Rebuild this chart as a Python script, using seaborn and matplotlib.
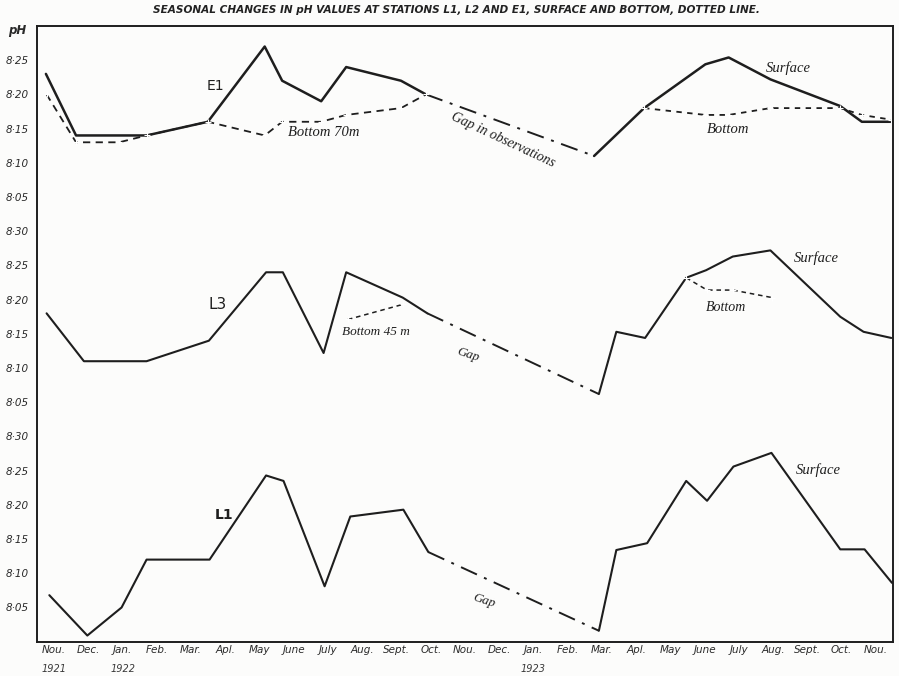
"""
Seasonal changes in pH at stations L1, L3 (L2) and E1 -- surface and bottom.
Three stacked panels drawn on one axis with offsets of 0.30 pH.
"""
import numpy as np
import pandas as pd
import matplotlib
matplotlib.use('Agg')
import matplotlib.pyplot as plt
import seaborn as sns

# x = months since start of Nov. 1921 (ticks mark month boundaries)
months = ['Nou.', 'Dec.', 'Jan.', 'Feb.', 'Mar.', 'Apl.', 'May', 'June', 'July', 'Aug.',
          'Sept.', 'Oct.', 'Nou.', 'Dec.', 'Jan.', 'Feb.', 'Mar.', 'Apl.', 'May', 'June',
          'July', 'Aug.', 'Sept.', 'Oct.', 'Nou.']
years = {0: '1921', 2: '1922', 14: '1923'}

# ---- E1 ----
e1_x1 = [0.26, 1.14, 2.37, 3.2, 4.99, 6.65, 7.16, 8.3, 9.03, 10.63, 11.36]
e1_y1 = [8.23, 8.14, 8.14, 8.14, 8.16, 8.27, 8.22, 8.19, 8.24, 8.22, 8.20]
e1_gap_x = [11.36, 16.27]
e1_gap_y = [8.20, 8.11]
e1_x2 = [16.27, 17.73, 19.52, 20.2, 21.42, 23.46, 24.09, 24.95]
e1_y2 = [8.11, 8.18, 8.244, 8.254, 8.222, 8.183, 8.16, 8.16]
e1b_x1 = [0.28, 1.14, 2.4, 3.2, 4.99, 6.65, 7.16, 8.3, 9.03, 10.63, 11.36]
e1b_y1 = [8.20, 8.13, 8.13, 8.14, 8.16, 8.14, 8.16, 8.16, 8.17, 8.18, 8.20]
e1b_x2 = [17.73, 19.52, 20.2, 21.42, 23.46, 24.09, 24.95]
e1b_y2 = [8.18, 8.17, 8.17, 8.18, 8.18, 8.17, 8.163]

# ---- L3 ----
l3_x1 = [0.28, 1.37, 2.42, 3.2, 5.02, 6.69, 7.18, 8.37, 9.03, 10.68, 11.4]
l3_y1 = [8.18, 8.11, 8.11, 8.11, 8.14, 8.24, 8.24, 8.122, 8.24, 8.203, 8.18]
l3_gap_x = [11.4, 16.41]
l3_gap_y = [8.18, 8.062]
l3_x2 = [16.41, 16.92, 17.76, 18.96, 19.54, 20.32, 21.42, 23.46, 24.14, 24.95]
l3_y2 = [8.062, 8.153, 8.144, 8.232, 8.243, 8.263, 8.272, 8.175, 8.153, 8.144]
l3b_x1 = [9.08, 10.68]
l3b_y1 = [8.171, 8.193]
l3b_x2 = [18.96, 19.57, 20.32, 21.47]
l3b_y2 = [8.232, 8.214, 8.214, 8.203]

# ---- L1 ----
l1_x1 = [0.36, 1.47, 2.47, 3.2, 5.04, 6.69, 7.2, 8.4, 9.15, 10.7, 11.43]
l1_y1 = [8.068, 8.009, 8.05, 8.12, 8.12, 8.243, 8.235, 8.081, 8.183, 8.193, 8.131]
l1_gap_x = [11.43, 16.41]
l1_gap_y = [8.131, 8.016]
l1_x2 = [16.41, 16.92, 17.82, 18.96, 19.57, 20.34, 21.45, 23.46, 24.17, 24.97]
l1_y2 = [8.016, 8.134, 8.144, 8.235, 8.206, 8.256, 8.276, 8.135, 8.135, 8.086]

OFF = {'E1': 0.60, 'L3': 0.30, 'L1': 0.0}
INK = '#1e1e1e'

sns.set_style('white')
plt.rcParams['font.family'] = ['DejaVu Sans']

fig = plt.figure(figsize=(8.99, 6.76), dpi=100, facecolor='#fcfcfb')
ax = fig.add_axes([37 / 899, (676 - 641.7) / 676, (893 - 37) / 899, (641.7 - 26) / 676])
ax.set_facecolor('#fcfcfb')


def seg(x, y, off, ls='-', lw=1.6, marker=None, dashes=None):
    d = pd.DataFrame({'x': x, 'y': np.array(y) + off})
    kw = dict(x='x', y='y', data=d, ax=ax, color=INK, lw=lw, estimator=None, sort=False)
    if marker:
        kw.update(marker=marker, markersize=4, markeredgewidth=0.8)
    line = sns.lineplot(**kw).lines[-1]
    line.set_linestyle(ls)
    if dashes:
        line.set_dashes(dashes)


# surface lines
seg(e1_x1, e1_y1, OFF['E1'], lw=1.8)
seg(e1_x2, e1_y2, OFF['E1'], lw=1.8)
seg(l3_x1, l3_y1, OFF['L3'], lw=1.5)
seg(l3_x2, l3_y2, OFF['L3'], lw=1.5)
seg(l1_x1, l1_y1, OFF['L1'], lw=1.5)
seg(l1_x2, l1_y2, OFF['L1'], lw=1.5)
# gaps in observations
for gx, gy, k in [(e1_gap_x, e1_gap_y, 'E1'), (l3_gap_x, l3_gap_y, 'L3'), (l1_gap_x, l1_gap_y, 'L1')]:
    seg(gx, gy, OFF[k], lw=1.4, dashes=(9, 4, 1.5, 4))
# bottom lines
seg(e1b_x1, e1b_y1, OFF['E1'], lw=1.3, marker='+', dashes=(4, 3))
seg(e1b_x2, e1b_y2, OFF['E1'], lw=1.3, marker='+', dashes=(3, 3))
seg(l3b_x1, l3b_y1, OFF['L3'], lw=1.1, marker='+', dashes=(3, 2.5))
seg(l3b_x2, l3b_y2, OFF['L3'], lw=1.1, marker='+', dashes=(3, 2.5))

ax.set_xlim(0, 25)
ax.set_ylim(8.0, 8.9)
ax.set_xlabel('')
ax.set_ylabel('')

# y ticks: repeating pH scale in each panel
yt = np.round(np.arange(8.05, 8.86, 0.05), 2)
ylab = []
for v in yt:
    r = round((v - 8.0) % 0.30, 2)
    r = 0.30 if r == 0 else r
    ylab.append(f'8·{int(round(r * 100)):02d}')
ax.set_yticks(yt)
ax.set_yticklabels(ylab, fontsize=7.5, style='italic', color='#2a2a2a')
ax.tick_params(axis='y', direction='out', length=4, width=1, color=INK, pad=2)

ax.set_xticks(np.arange(1, 25))
ax.set_xticklabels([])
ax.tick_params(axis='x', direction='in', length=4, width=1, color=INK)
for i, m in enumerate(months):
    ax.text(i + 0.5, -0.006, m, transform=ax.get_xaxis_transform(), ha='center', va='top',
            fontsize=7.5, style='italic', color='#2a2a2a')
for i, yr in years.items():
    ax.text(i + 0.5, -0.036, yr, transform=ax.get_xaxis_transform(), ha='center', va='top',
            fontsize=7, style='italic', color='#3a3a3a')

for s in ax.spines.values():
    s.set_color(INK)
    s.set_linewidth(1.4)

ax.text(-0.012, 0.992, 'pH', transform=ax.transAxes, ha='right', va='center',
        fontsize=8.5, style='italic', fontweight='bold', color='#2a2a2a')

fig.text(0.508, 0.985, 'SEASONAL CHANGES IN pH VALUES AT STATIONS L1, L2 AND E1, SURFACE AND BOTTOM, DOTTED LINE.',
         ha='center', va='center', fontsize=7.6, style='italic', fontweight='bold', color='#222')

# station labels and handwritten notes
ax.text(5.2, 8.812, 'E1', fontsize=10, ha='center', va='center', color=INK)
ax.text(5.28, 8.493, 'L3', fontsize=11, ha='center', va='center', color=INK)
ax.text(5.45, 8.185, 'L1', fontsize=10, fontweight='bold', ha='center', va='center', color=INK)
hand = dict(family='Liberation Serif', style='italic', color=INK, va='center')
ax.text(7.32, 8.744, 'Bottom 70m', fontsize=10.5, **hand)
ax.text(13.6, 8.733, 'Gap in observations', fontsize=10, rotation=-25, ha='center', **hand)
ax.text(21.3, 8.839, 'Surface', fontsize=10.5, **hand)
ax.text(19.56, 8.748, 'Bottom', fontsize=10.5, **hand)
ax.text(22.1, 8.561, 'Surface', fontsize=10.5, **hand)
ax.text(19.53, 8.489, 'Bottom', fontsize=10, **hand)
ax.text(8.92, 8.453, 'Bottom 45 m', fontsize=9.5, **hand)
ax.text(12.6, 8.42, 'Gap', fontsize=9.5, rotation=-18, ha='center', **hand)
ax.text(22.16, 8.251, 'Surface', fontsize=10.5, **hand)
ax.text(13.06, 8.06, 'Gap', fontsize=9.5, rotation=-18, ha='center', **hand)

fig.savefig('out.png', dpi=100, facecolor=fig.get_facecolor())
